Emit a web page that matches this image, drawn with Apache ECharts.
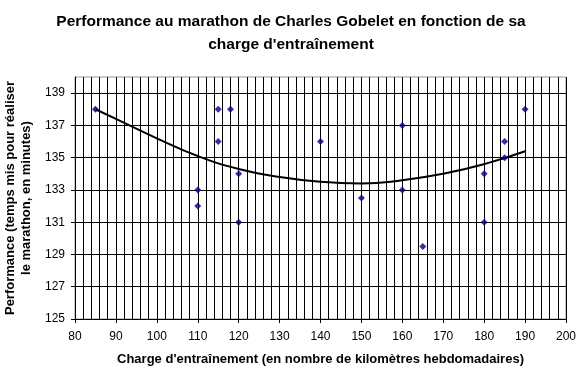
<!DOCTYPE html>
<html>
<head>
<meta charset="utf-8">
<script src="https://cdn.jsdelivr.net/npm/echarts@6/dist/echarts.min.js"></script>
<style>
  html, body { margin: 0; padding: 0; background: #fff; }
  #chart { width: 582px; height: 375px; }
</style>
</head>
<body>
<div id="chart"></div>
<script>
// données
var chargeKm = [85, 110, 110, 115, 115, 118, 120, 120, 140, 150, 160, 160, 165, 180, 180, 185, 185, 190];
var tempsMin = [138, 133, 132, 138, 136, 138, 134, 131, 136, 132.5, 137, 133, 129.5, 134, 131, 136, 135, 138];

// courbe de tendance
var tendanceX = [85, 90, 100, 110, 120, 130, 140, 150, 160, 170, 180, 190];
var tendanceY = [138.0, 137.4, 136.2, 135.1, 134.3, 133.8, 133.5, 133.4, 133.6, 134.0, 134.6, 135.4];

// graduations de l'axe vertical
var yTicks = [125, 127, 129, 131, 133, 135, 137, 139];

var points = chargeKm.map(function (x, i) { return [x, tempsMin[i]]; });
var tendance = tendanceX.map(function (x, i) { return [x, tendanceY[i]]; });

var myChart = echarts.init(document.getElementById('chart'));
var font = 'Liberation Sans, Arial, sans-serif';

myChart.setOption({
    animation: false,
    title: {
        text: "Performance au marathon de Charles Gobelet en fonction de sa\ncharge d'entraînement",
        left: 'center',
        top: 5,
        textStyle: {
            fontFamily: font,
            fontSize: 15.5,
            fontWeight: 'bold',
            color: '#000',
            lineHeight: 23
        }
    },
    grid: {
        left: 75,
        right: 16,
        top: 77,
        bottom: 56,
        outerBoundsMode: 'none',
        containLabel: false,
        show: true,
        borderColor: '#999',
        borderWidth: 1
    },
    xAxis: {
        type: 'value',
        min: 80,
        max: 200,
        interval: 10,
        name: "Charge d'entraînement (en nombre de kilomètres hebdomadaires)",
        nameLocation: 'middle',
        nameGap: 34,
        nameTextStyle: { fontFamily: font, fontSize: 13, fontWeight: 'bold', color: '#000' },
        axisLine: { lineStyle: { color: '#000', width: 1 } },
        axisTick: { show: true, inside: false, length: 4, lineStyle: { color: '#000' } },
        axisLabel: { fontFamily: font, fontSize: 12, color: '#000', margin: 12 },
        splitLine: { show: true, lineStyle: { color: '#000', width: 1 } },
        minorTick: { show: false, splitNumber: 5 },
        minorSplitLine: { show: true, lineStyle: { color: '#000', width: 1 } }
    },
    yAxis: {
        type: 'value',
        min: 125,
        max: 140,
        name: 'Performance (temps mis pour réaliser\nle marathon, en minutes)',
        nameLocation: 'middle',
        nameRotate: 90,
        nameGap: 38,
        nameTextStyle: { fontFamily: font, fontSize: 13, fontWeight: 'bold', color: '#000', lineHeight: 16 },
        axisLine: { show: true, lineStyle: { color: '#000', width: 1 } },
        axisTick: { show: true, length: 4, customValues: yTicks, lineStyle: { color: '#000' } },
        axisLabel: { fontFamily: font, fontSize: 12, color: '#000', margin: 10, customValues: yTicks },
        splitLine: { show: true, lineStyle: { color: '#000', width: 1 } }
    },
    series: [
        {
            name: 'Performance',
            type: 'scatter',
            data: points,
            symbol: 'diamond',
            symbolSize: 7,
            itemStyle: { color: '#000080' },
            z: 3
        },
        {
            name: 'Tendance',
            type: 'line',
            data: tendance,
            smooth: true,
            showSymbol: false,
            lineStyle: { color: '#000', width: 2 },
            z: 2
        }
    ]
});
</script>
</body>
</html>
